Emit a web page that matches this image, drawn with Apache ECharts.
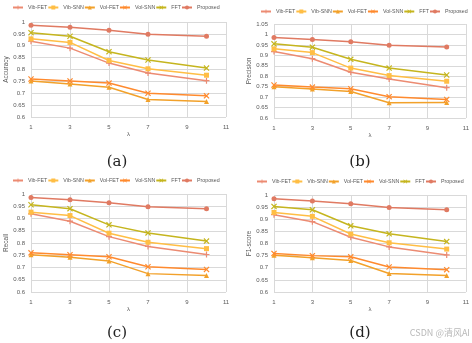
<!DOCTYPE html>
<html>
<head>
<meta charset="utf-8">
<script src="https://cdn.jsdelivr.net/npm/echarts@6/dist/echarts.min.js"></script>
<style>
html,body{margin:0;padding:0;background:#fff;}
#chart{width:472px;height:343px;}
</style>
</head>
<body>
<div id="chart"></div>
<script>
// λ values on the x axis
var lambdas = [1, 3, 5, 7, 10];
var methods = ['Vib-FET', 'Vib-SNN', 'Vol-FET', 'Vol-SNN', 'FFT', 'Proposed'];

// Accuracy
var accVibFET   = [0.919, 0.890, 0.827, 0.785, 0.753];
var accVibSNN   = [0.929, 0.914, 0.838, 0.803, 0.776];
var accVolFET   = [0.752, 0.739, 0.725, 0.674, 0.665];
var accVolSNN   = [0.760, 0.752, 0.743, 0.700, 0.689];
var accFFT      = [0.955, 0.940, 0.875, 0.840, 0.806];
var accProposed = [0.986, 0.978, 0.965, 0.948, 0.940];

// Precision
var preVibFET   = [0.918, 0.884, 0.819, 0.787, 0.745];
var preVibSNN   = [0.931, 0.913, 0.839, 0.803, 0.776];
var preVolFET   = [0.750, 0.739, 0.727, 0.673, 0.674];
var preVolSNN   = [0.758, 0.748, 0.740, 0.702, 0.689];
var preFFT      = [0.955, 0.939, 0.881, 0.839, 0.806];
var preProposed = [0.985, 0.976, 0.965, 0.948, 0.940];

// Recall
var recVibFET   = [0.919, 0.889, 0.826, 0.786, 0.753];
var recVibSNN   = [0.926, 0.912, 0.840, 0.803, 0.777];
var recVolFET   = [0.752, 0.742, 0.727, 0.675, 0.667];
var recVolSNN   = [0.760, 0.752, 0.744, 0.703, 0.692];
var recFFT      = [0.956, 0.940, 0.874, 0.841, 0.808];
var recProposed = [0.986, 0.977, 0.964, 0.948, 0.940];

// F1-score
var f1VibFET   = [0.919, 0.890, 0.826, 0.786, 0.753];
var f1VibSNN   = [0.928, 0.912, 0.839, 0.803, 0.777];
var f1VolFET   = [0.752, 0.741, 0.730, 0.676, 0.668];
var f1VolSNN   = [0.759, 0.750, 0.745, 0.703, 0.692];
var f1FFT      = [0.953, 0.939, 0.873, 0.840, 0.808];
var f1Proposed = [0.985, 0.975, 0.964, 0.948, 0.939];

var panels = [
  {name: 'Accuracy',  caption: '(a)', yMax: 1,    sets: [accVibFET, accVibSNN, accVolFET, accVolSNN, accFFT, accProposed]},
  {name: 'Precision', caption: '(b)', yMax: 1.05, sets: [preVibFET, preVibSNN, preVolFET, preVolSNN, preFFT, preProposed]},
  {name: 'Recall',    caption: '(c)', yMax: 1,    sets: [recVibFET, recVibSNN, recVolFET, recVolSNN, recFFT, recProposed]},
  {name: 'F1-score',  caption: '(d)', yMax: 1,    sets: [f1VibFET, f1VibSNN, f1VolFET, f1VolSNN, f1FFT, f1Proposed]}
];

var colors = ['#EC8B72', '#FFBE45', '#F2A12A', '#FF8A2E', '#C5B51E', '#E07A62'];
var plusPath = 'path://M4,0H6V4H10V6H6V10H4V6H0V4H4Z';
var crossPath = 'path://M1.4,0L5,3.6L8.6,0L10,1.4L6.4,5L10,8.6L8.6,10L5,6.4L1.4,10L0,8.6L3.6,5L0,1.4Z';
var symbols = [plusPath, 'rect', 'triangle', crossPath, crossPath, 'circle'];
var symbolSizes = [6, 5, 5, 6, 6, 5];

var grids = [
  {left: 31,  top: 22, width: 195, height: 95},
  {left: 274, top: 24, width: 193, height: 94},
  {left: 31,  top: 194, width: 195, height: 98},
  {left: 274, top: 195, width: 193, height: 97}
];
var legends = [
  {left: 12, top: 5},
  {left: 260, top: 9},
  {left: 12, top: 178},
  {left: 256, top: 179}
];
var captionPos = [[117, 162], [360, 162], [117, 333], [360, 333]];

var font = 'Liberation Sans';
var option = {
  backgroundColor: '#fff',
  animation: false,
  textStyle: {fontFamily: font},
  grid: grids,
  legend: legends.map(function (l) {
    return {
      data: methods, left: l.left, top: l.top, width: 300,
      itemWidth: 10, itemHeight: 5, itemGap: 0,
      textStyle: {fontSize: 5.3, color: '#595959', fontFamily: font}, padding: 0
    };
  }),
  xAxis: panels.map(function (p, i) {
    return {
      type: 'value', gridIndex: i, min: 1, max: 11, interval: 2,
      name: 'λ', nameLocation: 'middle', nameGap: 13,
      nameTextStyle: {fontSize: 6, color: '#595959'},
      axisLine: {show: false}, axisTick: {show: false},
      axisLabel: {fontSize: 6, color: '#595959', margin: 7},
      splitLine: {show: true, lineStyle: {color: '#d9d9d9', width: 1}}
    };
  }),
  yAxis: panels.map(function (p, i) {
    return {
      type: 'value', gridIndex: i, min: 0.6, max: p.yMax, interval: 0.05,
      name: p.name, nameLocation: 'middle', nameGap: 18, nameRotate: 90,
      nameTextStyle: {fontSize: 6.5, color: '#595959'},
      axisLine: {show: false}, axisTick: {show: false},
      axisLabel: {fontSize: 6, color: '#595959', margin: 6,
        formatter: function (v) { return String(Math.round(v * 100) / 100); }},
      splitLine: {show: true, lineStyle: {color: '#d9d9d9', width: 1}}
    };
  }),
  series: [],
  graphic: []
};

panels.forEach(function (p, i) {
  p.sets.forEach(function (vals, k) {
    option.series.push({
      name: methods[k], type: 'line', xAxisIndex: i, yAxisIndex: i,
      data: lambdas.map(function (x, j) { return [x, vals[j]]; }),
      symbol: symbols[k], symbolSize: symbolSizes[k], showSymbol: true,
      itemStyle: {color: colors[k]},
      lineStyle: {color: colors[k], width: 1.5},
      z: 2 + k
    });
  });
  option.graphic.push({
    type: 'text', x: captionPos[i][0], y: captionPos[i][1],
    style: {text: p.caption, fontSize: 15, fontFamily: 'DejaVu Serif', fill: '#222',
      align: 'center', verticalAlign: 'middle'}
  });
});

option.graphic.push({
  type: 'text', x: 470, y: 333,
  style: {text: 'CSDN @清风AI', fontSize: 9, fontFamily: 'Noto Sans CJK SC', fill: '#b8b8b8',
    align: 'right', verticalAlign: 'middle'}
});

var chart = echarts.init(document.getElementById('chart'), null, {renderer: 'canvas'});
chart.setOption(option);
</script>
</body>
</html>
